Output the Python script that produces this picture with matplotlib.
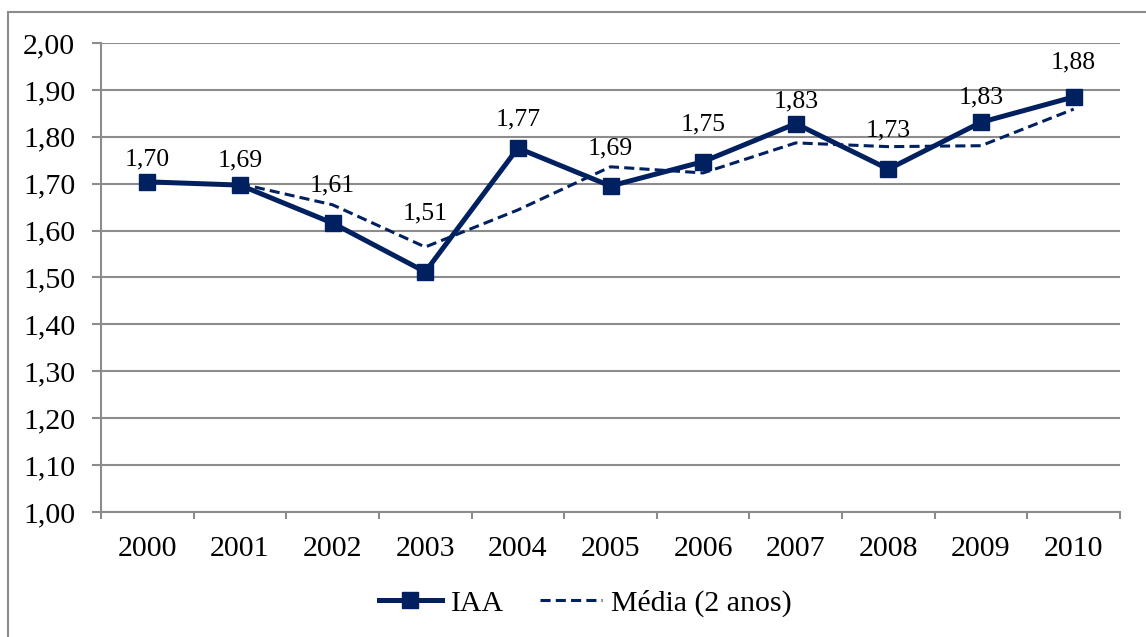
import matplotlib.pyplot as plt
from matplotlib.ticker import FuncFormatter, FixedLocator
from matplotlib.patches import Rectangle

# data
years = ["2000", "2001", "2002", "2003", "2004", "2005", "2006", "2007", "2008", "2009", "2010"]
iaa = [1.704, 1.697, 1.616, 1.512, 1.776, 1.695, 1.747, 1.828, 1.731, 1.831, 1.885]
iaa_labels = ["1,70", "1,69", "1,61", "1,51", "1,77", "1,69", "1,75", "1,83", "1,73", "1,83", "1,88"]
media_years = ["2001", "2002", "2003", "2004", "2005", "2006", "2007", "2008", "2009", "2010"]
media = [1.700, 1.655, 1.565, 1.644, 1.736, 1.723, 1.787, 1.779, 1.781, 1.859]

# label offsets above each point (points), as placed in the original
label_dy = [8, 10, 19, 34, 13, 19, 19, 8, 20, 10, 17]

NAVY = '#002060'
GRAY = '#8c8c8c'

plt.rcParams['font.family'] = ['Liberation Serif', 'DejaVu Serif']

fig = plt.figure(figsize=(11.46, 6.37), dpi=100)
ax = fig.add_axes([101 / 1146, 125 / 637, 1019 / 1146, 469 / 637])

xi = list(range(len(years)))
xm = [years.index(y) for y in media_years]

ax.plot(xm, media, color=NAVY, linestyle='--', dashes=(3.3, 1.7), linewidth=2.2,
        label='Média (2 anos)', zorder=3)
ax.plot(xi, iaa, color=NAVY, linestyle='-', linewidth=3.6, marker='s', markersize=11.5,
        label='IAA', zorder=4)

for i in xi:
    ax.annotate(iaa_labels[i], (xi[i], iaa[i]), xytext=(0, label_dy[i]), textcoords='offset points',
                ha='center', va='bottom', fontsize=18.5, zorder=5)

ax.set_xlim(-0.5, len(years) - 0.5)
ax.set_ylim(1.0, 2.0)
ax.set_yticks([1.0 + 0.1 * k for k in range(11)])
ax.yaxis.set_major_formatter(FuncFormatter(lambda v, p: ("%.2f" % v).replace('.', ',')))
ax.set_xticks(xi)
ax.set_xticklabels(years)
ax.xaxis.set_minor_locator(FixedLocator([k - 0.5 for k in range(len(years) + 1)]))

ax.tick_params(axis='x', which='major', length=0, pad=17, labelsize=21.5)
ax.tick_params(axis='x', which='minor', length=5, width=1.5, color=GRAY, direction='out')
ax.tick_params(axis='y', length=6.5, width=1.5, color=GRAY, pad=12, labelsize=21.5)

ax.grid(axis='y', color=GRAY, linewidth=1.5)
ax.set_axisbelow(True)
for s in ['top', 'right']:
    ax.spines[s].set_visible(False)
for s in ['left', 'bottom']:
    ax.spines[s].set_color(GRAY)
    ax.spines[s].set_linewidth(1.5)

h, l = ax.get_legend_handles_labels()
fig.legend(h[::-1], l[::-1], loc='center', bbox_to_anchor=(0.511, 0.053), ncol=2, frameon=False,
           fontsize=21.5, handlelength=2.1, handletextpad=0.3, columnspacing=1.2)

# outer chart border (right and bottom run off the picture)
fig.patches.append(Rectangle((8 / 1146, -0.1), 1.2, (637 - 12) / 637 + 0.1, transform=fig.transFigure,
                             fill=False, edgecolor=GRAY, linewidth=1.5))

fig.savefig('out.png', dpi=100)
